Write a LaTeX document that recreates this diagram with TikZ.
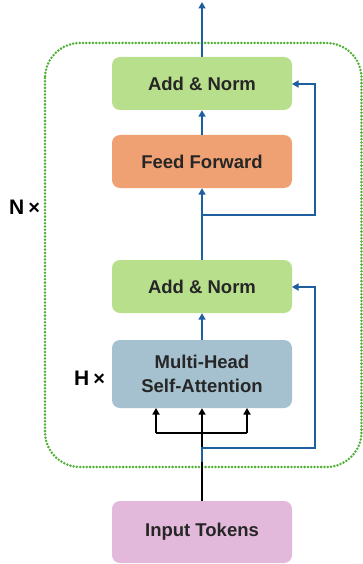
\documentclass[tikz,border=0pt]{standalone}
\usepackage{fontspec}
\setmainfont{Liberation Sans}
\usetikzlibrary{arrows.meta}
\definecolor{boxgreen}{HTML}{B8DF8C}
\definecolor{boxorange}{HTML}{F0A173}
\definecolor{boxblue}{HTML}{A5C0CF}
\definecolor{boxpink}{HTML}{E2B9DB}
\definecolor{dotgreen}{HTML}{4FB036}
\definecolor{arrblue}{HTML}{1F5F9F}
\definecolor{txt}{HTML}{262626}
\tikzset{
  blk/.style={rounded corners=8pt, minimum width=180pt, minimum height=53pt, inner sep=0pt, align=center,
    font=\fontsize{18.5}{24}\selectfont\bfseries, text=txt},
  barr/.style={draw=arrblue, line width=2.4pt, -{Triangle[length=6.5pt,width=7pt]}},
  karr/.style={draw=black, line width=2.4pt, -{Triangle[length=6.5pt,width=7pt]}},
  lbl/.style={font=\fontsize{21}{24}\selectfont\bfseries, text=black, inner sep=0pt}
}
\begin{document}
\begin{tikzpicture}[x=1pt,y=-1pt]
\useasboundingbox (0,0) rectangle (363,564);
% dotted container
\draw[dotgreen, line width=2.8pt, line cap=round, dash pattern=on 0pt off 3.3pt, rounded corners=35pt] (45,43) rectangle (361.5,467);
% boxes
\node[blk, fill=boxgreen] (an1) at (202,83.5) {Add \& Norm};
\node[blk, fill=boxorange] (ff) at (202,161.5) {Feed Forward};
\node[blk, fill=boxgreen] (an2) at (202,286.5) {Add \& Norm};
\node[blk, fill=boxblue, minimum height=68pt] (mhsa) at (202,374) {Multi-Head\\Self-Attention};
\node[blk, fill=boxpink, minimum height=62pt] (inp) at (202,532) {Input Tokens};
% labels
\node[lbl, anchor=base west] (nlab) at (9,214) {N\hspace{4pt}{\fontsize{20}{20}\selectfont ×}};
\node[lbl, anchor=base west] (hlab) at (74,385) {H\hspace{4pt}{\fontsize{20}{20}\selectfont ×}};
% coordinates
\coordinate (top) at (202,2);
\coordinate (b1) at (202,215);
\coordinate (r1) at (315,215);
\coordinate (r1t) at (315,84);
\coordinate (an1r) at (292,84);
\coordinate (b2) at (202,448);
\coordinate (b2s) at (202,462);
\coordinate (r2) at (315,448);
\coordinate (r2t) at (315,287);
\coordinate (an2r) at (292,287);
\coordinate (fk) at (202,433);
\coordinate (fkl) at (156,433);
\coordinate (fkr) at (247,433);
\coordinate (ml) at (156,408);
\coordinate (mr) at (247,408);
% black input lines
\draw[black, line width=2.4pt] (inp.north) -- (fk);
\draw[black, line width=2.4pt] (fkl) -- (fkr);
\draw[karr] (fk) -- (mhsa.south);
\draw[karr] (fkl) -- (ml);
\draw[karr] (fkr) -- (mr);
% blue flow
\draw[barr] (an1.north) -- (top);
\draw[barr] (ff.north) -- (an1.south);
\draw[barr] (an2.north) -- (ff.south);
\draw[barr] (mhsa.north) -- (an2.south);
\draw[barr] (b1) -- (r1) -- (r1t) -- (an1r);
\draw[barr] (b2s) -- (b2) -- (r2) -- (r2t) -- (an2r);
\end{tikzpicture}
\end{document}
